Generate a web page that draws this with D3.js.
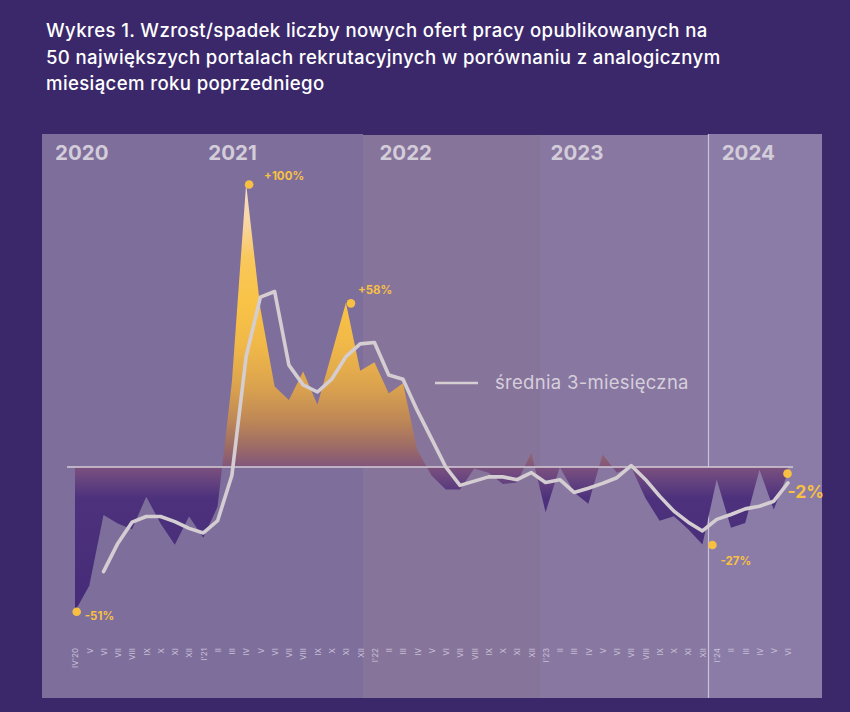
<!DOCTYPE html>
<html>
<head>
<meta charset="utf-8">
<script src="https://cdn.jsdelivr.net/npm/d3@7"></script>
<style>
  html, body { margin: 0; padding: 0; background: #3b286b; }
  svg { display: block; }
</style>
</head>
<body>
<svg id="chart" width="850" height="712"></svg>
<script>
// ---------- DATA ----------
const monthLabels = ["IV'20","V","VI","VII","VIII","IX","X","XI","XII",
  "I'21","II","III","IV","V","VI","VII","VIII","IX","X","XI","XII",
  "I'22","II","III","IV","V","VI","VII","VIII","IX","X","XI","XII",
  "I'23","II","III","IV","V","VI","VII","VIII","IX","X","XI","XII",
  "I'24","II","III","IV","V","VI"];

// y/y change of new job offers, %
const changeValues = [-51,-42,-17,-20,-22,-10.5,-20,-27.5,-17.5,
  -25,-14,30,100,56,28.4,23.7,33.7,22,40,58,34,
  37,26,29.6,6,-3,-8,-8,-0.5,-2,-6,-5.5,5,
  -16,0,-9,-13,4.4,-2,0,-11,-19,-17.4,-22,-27.4,
  -4.4,-21.5,-19.8,-1,-15,-2];

// 3-month average line, starts at VI'20
const avgStartIndex = 2;
const avgValues = [-37,-27,-19.5,-17.5,-17.5,-19.3,-21.7,-23.3,-19,-3,
  39,60,62,36,29,26.5,31,39,43.5,44,32.5,31,20,10,0,-6.5,-5,-3.5,-3.5,-4.5,
  -2,-5.5,-4.5,-9,-7.5,-5.8,-3.8,0.5,-4.4,-10.3,-15.6,-19.5,-22.6,-18.5,-16.8,
  -14.8,-13.9,-12.1,-5.6];

const yearLabels = ["2020","2021","2022","2023","2024"];
const yearStartIndex = [0, 9, 21, 33, 45];

const annotationIndex = [12, 19, 0, 44, 50];
const annotationText = ["+100%", "+58%", "-51%", "-27%", "-2%"];

const legendText = "średnia 3-miesięczna";
const titleLines = [
  "Wykres 1. Wzrost/spadek liczby nowych ofert pracy opublikowanych na",
  "50 największych portalach rekrutacyjnych w porównaniu z analogicznym",
  "miesiącem roku poprzedniego"
];

// ---------- LAYOUT ----------
const svg = d3.select("#chart");
const W = 850, H = 712;
const font = "Inter, 'Noto Sans', sans-serif";

const x = d3.scaleLinear().domain([0, monthLabels.length - 1]).range([75, 788]);
const y = d3.scaleLinear().domain([-51, 100]).range([611.3, 184]);

// background
svg.append("rect").attr("width", W).attr("height", H).attr("fill", "#3b286b");

// panels
const panelTop = 134, panelBottom = 698;
const panels = [
  {x0: 42,  x1: 363, fill: "#7e6e9c", top: 134},
  {x0: 363, x1: 540, fill: "#87749b", top: 135},
  {x0: 540, x1: 708, fill: "#8877a1", top: 135},
  {x0: 708, x1: 822, fill: "#8a7ca7", top: 134}
];
svg.append("g").selectAll("rect").data(panels).join("rect")
  .attr("x", d => d.x0).attr("y", d => d.top)
  .attr("width", d => d.x1 - d.x0).attr("height", d => panelBottom - d.top)
  .attr("fill", d => d.fill);

// divider before 2024
svg.append("line").attr("x1", 708.5).attr("x2", 708.5)
  .attr("y1", panelTop).attr("y2", panelBottom)
  .attr("stroke", "#cbc3d6").attr("stroke-width", 1.2);

// title
svg.append("g").selectAll("text").data(titleLines).join("text")
  .attr("x", 46).attr("y", (d, i) => 37 + i * 26.5)
  .attr("fill", "#ffffff").attr("font-family", font)
  .attr("font-size", 18.6).attr("font-weight", 500)
  .attr("letter-spacing", 0.37)
  .text(d => d);

// year labels
svg.append("g").selectAll("text").data(yearLabels).join("text")
  .attr("x", (d, i) => i === 0 ? 55 : x(yearStartIndex[i]) + 5)
  .attr("y", 160)
  .attr("fill", "#d3ccd9").attr("font-family", font)
  .attr("font-size", 20.5).attr("font-weight", 700)
  .text(d => d);

// gradient
const defs = svg.append("defs");
const grad = defs.append("linearGradient").attr("id", "areaGrad")
  .attr("gradientUnits", "userSpaceOnUse")
  .attr("x1", 0).attr("x2", 0).attr("y1", y(100)).attr("y2", y(-51));
const stops = [
  [100, "#f7dfc6"], [86, "#f8d5a2"], [74, "#f9c85c"], [58, "#f9c346"],
  [42, "#efb749"], [28, "#daa24e"], [16, "#bd8657"], [7, "#9c6b66"],
  [0.5, "#83577a"], [-0.5, "#7a4f7e"], [-5, "#65437f"], [-11, "#4d317c"],
  [-51, "#452b78"]
];
grad.selectAll("stop").data(stops).join("stop")
  .attr("offset", d => (100 - d[0]) / 151)
  .attr("stop-color", d => d[1]);

// area
const area = d3.area()
  .x((d, i) => x(i))
  .y0(y(0))
  .y1(d => y(d));
svg.append("path").datum(changeValues)
  .attr("d", area).attr("fill", "url(#areaGrad)");

// zero line
svg.append("line").attr("x1", 67).attr("x2", 793)
  .attr("y1", y(0)).attr("y2", y(0))
  .attr("stroke", "#d4ccd6").attr("stroke-width", 1.5);

// 3-month average line
const line = d3.line()
  .x((d, i) => x(i + avgStartIndex))
  .y(d => y(d));
svg.append("path").datum(avgValues)
  .attr("d", line).attr("fill", "none")
  .attr("stroke", "#d4cdd2").attr("stroke-width", 3.6)
  .attr("stroke-linejoin", "round").attr("stroke-linecap", "round");

// legend
svg.append("line").attr("x1", 435).attr("x2", 478).attr("y1", 383).attr("y2", 383)
  .attr("stroke", "#d4cdd2").attr("stroke-width", 2.5);
svg.append("text").attr("x", 495).attr("y", 389)
  .attr("fill", "#d6cfdb").attr("font-family", font)
  .attr("font-size", 18.5).attr("font-weight", 400)
  .attr("letter-spacing", 0.3)
  .text(legendText);

// annotations
const annDx = [3, 5, 1.7, 10, -0.5];
const annLabelPos = [[15, -5], [7, -9], [8, 8], [8, 20], [0, 24]];
const annSize = [11.5, 11.5, 11.5, 11.5, 17.5];
const ann = svg.append("g");
annotationIndex.forEach((idx, k) => {
  const cx = x(idx) + annDx[k];
  const cy = y(changeValues[idx]) + (k === 4 ? 1 : 0.5);
  ann.append("circle").attr("cx", cx).attr("cy", cy).attr("r", 4.3)
    .attr("fill", "#f8c043");
  ann.append("text")
    .attr("x", cx + annLabelPos[k][0]).attr("y", cy + annLabelPos[k][1])
    .attr("fill", "#f8c043").attr("font-family", font)
    .attr("font-size", annSize[k]).attr("font-weight", 700)
    .text(annotationText[k]);
});

// x axis (rotated month labels)
const axis = d3.axisBottom(x)
  .tickValues(d3.range(monthLabels.length))
  .tickFormat(i => monthLabels[i])
  .tickSize(0);
const gx = svg.append("g").attr("transform", "translate(0,645)").call(axis);
gx.select(".domain").remove();
gx.selectAll("text")
  .attr("transform", "rotate(-90)")
  .attr("text-anchor", "end")
  .attr("x", -3).attr("y", 0).attr("dy", "0.35em")
  .attr("fill", "#c9c1d6")
  .attr("font-family", font)
  .attr("font-size", 8);
</script>
</body>
</html>
